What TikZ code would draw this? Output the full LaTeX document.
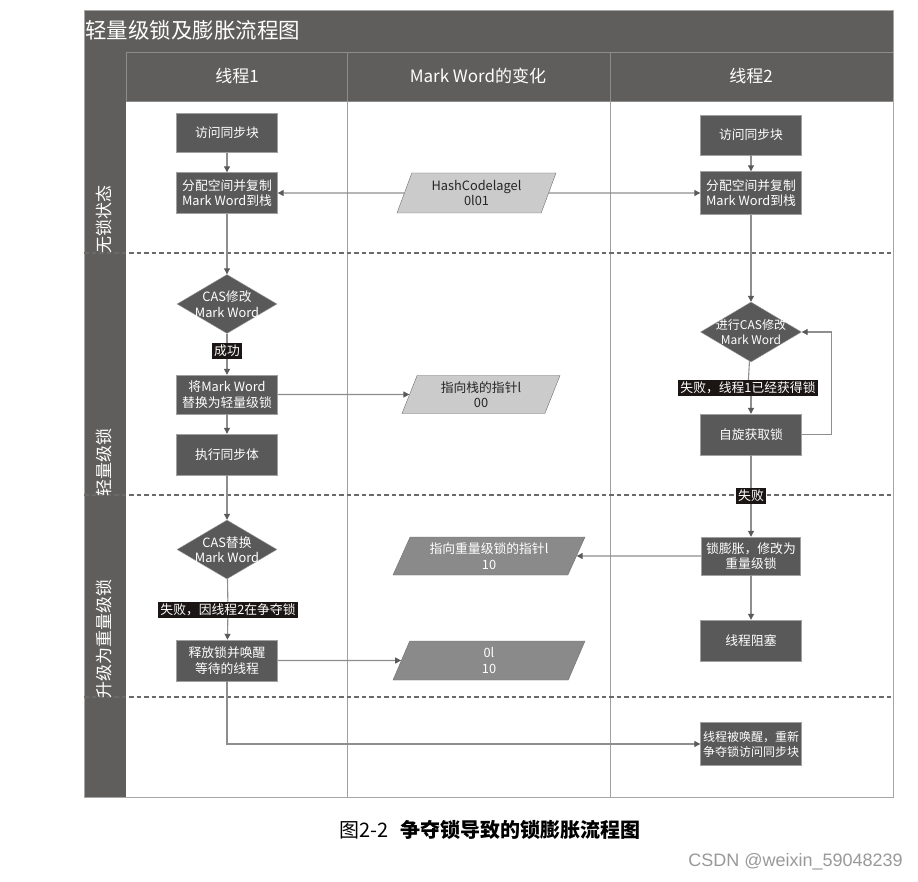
\documentclass[tikz,border=0pt]{standalone}
\usepackage{fontspec}
\setmainfont{Noto Sans CJK SC}
\newfontfamily\wmfont{Liberation Sans}
\usetikzlibrary{shapes.geometric,arrows.meta}
\definecolor{bar}{HTML}{5F5E5C}
\definecolor{boxfill}{HTML}{595959}
\definecolor{boxedge}{HTML}{A0A0A0}
\definecolor{linec}{HTML}{8E8E8E}
\definecolor{tipc}{HTML}{5A5A5A}
\definecolor{lightp}{HTML}{CBCBCB}
\definecolor{midp}{HTML}{8A8A8A}
\definecolor{pedge}{HTML}{707070}
\definecolor{labc}{HTML}{1B1613}
\definecolor{dashc}{HTML}{6A6A6A}
\definecolor{cellb}{HTML}{8C8C8C}
\newcommand\fsz[2]{\fontsize{#1}{#2}\selectfont}
\begin{document}
\begin{tikzpicture}[x=1pt,y=-1pt,
  box/.style={draw=boxedge, fill=boxfill, text=white, minimum width=101pt, minimum height=41pt, align=center, inner sep=1pt, font=\fsz{12.8}{15.5}},
  dia/.style={diamond, draw=boxedge, fill=boxfill, minimum width=100pt, minimum height=59pt, inner sep=0pt},
  diatext/.style={text=white, align=center, font=\fsz{12.8}{15.5}, inner sep=0pt},
  tag/.style={fill=labc, text=white, inner xsep=2pt, inner ysep=1.8pt, font=\fsz{12.8}{14}},
  para/.style={trapezium, trapezium left angle=62, trapezium right angle=118, trapezium stretches body=true, draw=pedge, align=center, inner sep=1pt, font=\fsz{12.8}{15.5}},
  lightpara/.style={para, fill=lightp, text=black!85},
  midpara/.style={para, fill=midp, text=white},
  conn/.style={draw=linec, line width=1.1pt},
  arr/.style={conn, -{Triangle[length=6pt,width=6pt,color=tipc]}},
  sep/.style={draw=dashc, line width=2pt, dash pattern=on 4.5pt off 3pt},
  lane/.style={text=white, rotate=90, font=\fsz{17}{20}},
  hdr/.style={text=white, font=\fsz{17}{20}}
]
\useasboundingbox (0,0) rectangle (918,882);
% frame and bars
\fill[white] (0,0) rectangle (918,882);
\fill[bar] (84,10) rectangle (893,101);
\fill[bar] (84,101) rectangle (126,797);
\draw[cellb, line width=0.8pt] (126,52) rectangle (347,101);
\draw[cellb, line width=0.8pt] (347,52) rectangle (610,101);
\draw[cellb, line width=0.8pt] (610,52) rectangle (893,101);
\draw[gray!70, line width=0.8pt] (84,10) rectangle (893,797);
\node[text=white, anchor=west, font=\fsz{21.5}{24}, inner sep=0pt] (title) at (85,30) {轻量级锁及膨胀流程图};
\node[hdr] (h1) at (237,76) {线程1};
\node[hdr] (h2) at (478,76) {Mark Word的变化};
\node[hdr] (h3) at (751,76) {线程2};
% lane lines
\draw[gray!75, line width=0.9pt] (347,101) -- (347,797);
\draw[gray!75, line width=0.9pt] (610,101) -- (610,797);
\draw[sep] (84,253) -- (893,253);
\draw[sep] (84,495) -- (893,495);
\draw[sep] (84,697) -- (893,697);
\node[lane] (l1) at (104,220) {无锁状态};
\node[lane] (l2) at (104,462) {轻量级锁};
\node[lane] (l3) at (104,639) {升级为重量级锁};
% thread 1
\node[box, minimum height=39pt] (t1a) at (227,133) {访问同步块};
\node[box] (t1b) at (227,193) {分配空间并复制\\Mark Word到栈};
\node[dia] (t1c) at (227,304) {};
\node[diatext] (t1ct) at (227,304) {CAS修改\\Mark Word};
\node[tag] (lab1) at (227,351) {成功};
\node[box, minimum height=39pt] (t1d) at (227,394.5) {将Mark Word\\替换为轻量级锁};
\node[box] (t1e) at (227,454.5) {执行同步体};
\node[dia] (t1f) at (227,549.5) {};
\node[diatext] (t1ft) at (227,549.5) {CAS替换\\Mark Word};
\node[tag] (lab2) at (228,610) {失败，因线程2在争夺锁};
\node[box] (t1g) at (227,660.5) {释放锁并唤醒\\等待的线程};
% thread 2
\node[box, minimum height=40pt] (t2a) at (751,135) {访问同步块};
\node[box, minimum height=43pt] (t2b) at (751,193) {分配空间并复制\\Mark Word到栈};
\node[dia, minimum width=101pt, minimum height=60pt] (t2c) at (751,332) {};
\node[diatext, font=\fsz{12}{15}] (t2ct) at (751,332) {进行CAS修改\\Mark Word};
\node[tag] (lab3) at (748,388) {失败，线程1已经获得锁};
\node[box] (t2d) at (751,434.5) {自旋获取锁};
\node[tag] (lab4) at (751,496) {失败};
\node[box, minimum width=99pt, minimum height=38pt] (t2e) at (751,556) {锁膨胀，修改为\\重量级锁};
\node[box] (t2f) at (751,640.5) {线程阻塞};
\node[box, minimum height=43pt, font=\fsz{12}{15}, inner sep=0pt] (t2g) at (751,744) {线程被唤醒，重新\\争夺锁访问同步块};
% mark word column
\node[lightpara, minimum width=159pt, minimum height=40pt] (p1) at (476.5,193) {HashCodelagel\\0l01};
\node[lightpara, minimum width=158pt, minimum height=38pt] (p2) at (481,394.5) {指向栈的指针l\\00};
\node[midpara, trapezium left angle=59, trapezium right angle=121, minimum width=192pt, minimum height=38pt] (p3) at (489,556) {指向重量级锁的指针l\\10};
\node[midpara, trapezium left angle=59, trapezium right angle=121, minimum width=192pt, minimum height=39pt] (p4) at (489,660.5) {0l\\10};
% connectors thread 1
\draw[arr] (t1a) -- (t1b);
\draw[arr] (t1b) -- (t1c);
\draw[conn] (t1c) -- (lab1);
\draw[arr] (lab1) -- (t1d);
\draw[arr] (t1d) -- (t1e);
\draw[arr] (t1e) -- (t1f);
\draw[conn] (t1f) -- (lab2);
\draw[arr] (lab2) -- (t1g);
\draw[arr] (t1g.south) |- (t2g.west);
% connectors thread 2
\draw[arr] (t2a) -- (t2b);
\draw[arr] (t2b) -- (t2c);
\draw[conn] (t2c) -- (lab3);
\draw[arr] (lab3.south -| t2d.north) -- (t2d.north);
\draw[conn] (t2d) -- (lab4);
\draw[arr] (lab4) -- (t2e);
\draw[arr] (t2e) -- (t2f);
\draw[arr] (t2d.east) -- ([xshift=30pt]t2d.east) |- (t2c.east);
% horizontal
\draw[arr] (p1) -- (t1b.east);
\draw[arr] (p1) -- (t2b.west);
\draw[arr] (t1d.east) -- (p2);
\draw[arr] (t2e.west) -- (p3);
\draw[arr] (t1g.east) -- (p4);
% caption
\node[font=\fsz{20}{23}] (cap) at (490,830) {图2-2\hspace{0.6em}{\bfseries 争夺锁导致的锁膨胀流程图}};
\node[anchor=east, text=black!40, font=\wmfont\fsz{18}{21}, inner sep=0pt] (wm) at (903,862) {CSDN @weixin\_59048239};
\end{tikzpicture}
\end{document}
